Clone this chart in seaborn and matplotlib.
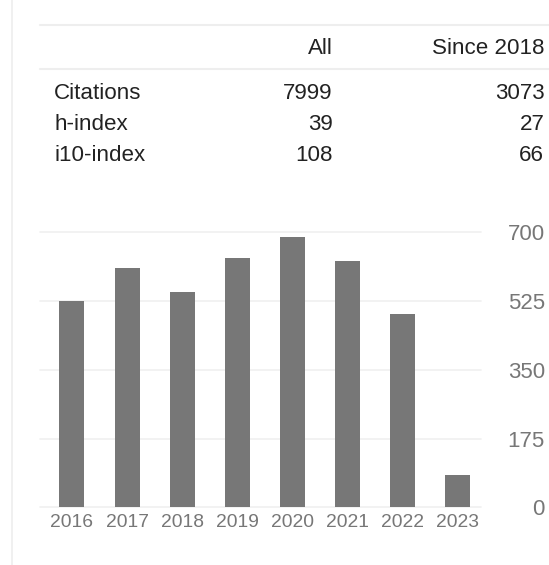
import matplotlib
matplotlib.use("Agg")
import matplotlib.pyplot as plt
from matplotlib.lines import Line2D
import seaborn as sns
import pandas as pd

# Chart data
years = ["2016", "2017", "2018", "2019", "2020", "2021", "2022", "2023"]
citations = [526, 608, 548, 634, 688, 628, 493, 82]
y_ticks = [0, 175, 350, 525, 700]

# Table data
row_labels = ["Citations", "h-index", "i10-index"]
col_labels = ["All", "Since 2018"]
all_values = ["7999", "39", "108"]
since_values = ["3073", "27", "66"]

W, H = 549, 565
TEXT_DARK = "#222222"
TEXT_GREY = "#777777"
LINE_COLOR = "#eeeeee"
BAR_COLOR = "#777777"


def fy(y):
    return 1 - y / H


def fx(x):
    return x / W


sns.set_theme(style="white")
plt.rcParams["font.family"] = ["Liberation Sans", "DejaVu Sans"]

fig = plt.figure(figsize=(W / 100, H / 100), dpi=100)

# left vertical border
fig.add_artist(Line2D([fx(11.7), fx(11.7)], [0, 1], color=LINE_COLOR, lw=1.2))

# table lines
fig.add_artist(Line2D([fx(40), 1], [fy(25), fy(25)], color=LINE_COLOR, lw=1.5))
fig.add_artist(Line2D([fx(40), 1], [fy(69), fy(69)], color=LINE_COLOR, lw=1.5))

# table header
fs_table = 16.1
fig.text(fx(332.7), fy(54.3), col_labels[0], ha="right", va="baseline",
         fontsize=fs_table, color=TEXT_DARK)
fig.text(fx(544.3), fy(54.3), col_labels[1], ha="right", va="baseline",
         fontsize=fs_table, color=TEXT_DARK)

# table rows
row_baselines = [99.3, 130.0, 160.7]
for lab, a, s, yb in zip(row_labels, all_values, since_values, row_baselines):
    fig.text(fx(54.3), fy(yb), lab, ha="left", va="baseline",
             fontsize=fs_table, color=TEXT_DARK)
    fig.text(fx(332.7), fy(yb), a, ha="right", va="baseline",
             fontsize=fs_table, color=TEXT_DARK)
    fig.text(fx(544.3), fy(yb), s, ha="right", va="baseline",
             fontsize=fs_table, color=TEXT_DARK)

# bar chart
ax_left, ax_right = 40, 481
ax_top, ax_bottom = 232.3, 507.3
ax = fig.add_axes([fx(ax_left), fy(ax_bottom), (ax_right - ax_left) / W,
                   (ax_bottom - ax_top) / H])

df = pd.DataFrame({"year": years, "citations": citations})
sns.barplot(data=df, x="year", y="citations", color=BAR_COLOR, saturation=1,
            width=0.453, linewidth=0, ax=ax, zorder=3)

ax.set_xlim(-0.58, 7.42)
ax.set_ylim(0, 700)
ax.set_yticks(y_ticks)
ax.set_yticklabels([str(t) for t in y_ticks])
ax.yaxis.tick_right()
ax.set_xlabel("")
ax.set_ylabel("")
for sp in ax.spines.values():
    sp.set_visible(False)
ax.grid(axis="y", color="#f0f0f0", lw=1.2, zorder=0)
ax.grid(axis="x", visible=False)
for gl in ax.yaxis.get_gridlines():
    gl.set_clip_on(False)
ax.tick_params(axis="x", length=0, pad=5, labelsize=13.9, labelcolor=TEXT_GREY)
ax.tick_params(axis="y", length=0, pad=46, labelsize=16, labelcolor=TEXT_GREY)
for lab in ax.get_yticklabels():
    lab.set_horizontalalignment("right")

fig.savefig("out.png", dpi=100, facecolor="white")
